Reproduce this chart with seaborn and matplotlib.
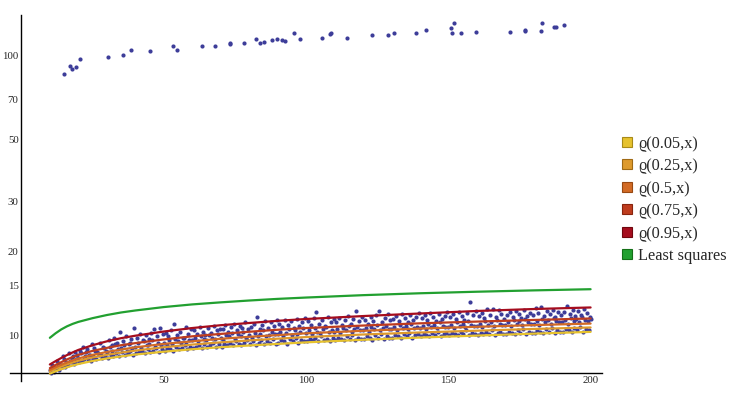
import numpy as np
import matplotlib.pyplot as plt
import seaborn as sns
from matplotlib.lines import Line2D
from matplotlib.ticker import NullFormatter

# fitted curves at these x positions
curve_x = [10, 12, 14, 16, 18, 20, 25, 30, 35, 40, 50, 60, 70, 80, 90, 100, 120, 140, 160, 180, 200]
q05 = [7.28, 7.42, 7.55, 7.67, 7.78, 7.88, 8.08, 8.25, 8.39, 8.52, 8.72, 8.9, 9.05, 9.18, 9.3, 9.42, 9.62, 9.8, 9.96, 10.12, 10.27]
q25 = [7.42, 7.58, 7.72, 7.86, 7.98, 8.1, 8.32, 8.5, 8.66, 8.8, 9.05, 9.25, 9.42, 9.57, 9.71, 9.84, 10.05, 10.22, 10.37, 10.52, 10.65]
q50 = [7.5, 7.67, 7.83, 7.98, 8.12, 8.25, 8.5, 8.7, 8.88, 9.04, 9.3, 9.5, 9.7, 9.86, 10.0, 10.15, 10.36, 10.55, 10.71, 10.86, 11.0]
q75 = [7.62, 7.82, 8.0, 8.18, 8.35, 8.5, 8.78, 9.0, 9.2, 9.36, 9.65, 9.9, 10.1, 10.28, 10.45, 10.6, 10.82, 11.02, 11.18, 11.33, 11.47]
q95 = [7.85, 8.07, 8.28, 8.48, 8.67, 8.85, 9.2, 9.5, 9.75, 9.95, 10.3, 10.6, 10.85, 11.05, 11.25, 11.42, 11.7, 11.95, 12.2, 12.4, 12.56]
lsq = [9.78, 10.15, 10.48, 10.75, 10.97, 11.15, 11.5, 11.8, 12.05, 12.25, 12.6, 12.88, 13.1, 13.3, 13.48, 13.63, 13.9, 14.12, 14.3, 14.46, 14.6]

# main cloud of points, three points per unit of x
scatter_y1 = [
    7.5, 7.7, 7.6, 7.9, 7.8, 8.2, 7.9, 8.1, 8.4, 8.0,
    8.3, 8.6, 8.2, 8.9, 8.5, 8.4, 8.8, 8.6, 8.5, 9.0,
    8.7, 9.1, 8.8, 9.3, 8.9, 9.0, 9.2, 8.8, 9.4, 9.0,
    9.1, 9.4, 9.0, 9.5, 9.2, 9.3, 9.6, 9.1, 9.4, 9.2,
    9.4, 9.2, 9.6, 9.3, 9.7, 9.5, 9.4, 9.8, 9.3, 9.6,
    9.6, 9.8, 9.5, 9.9, 9.7, 9.6, 10.0, 9.8, 9.7, 10.1,
    9.8, 9.6, 10.0, 9.9, 10.2, 9.7, 10.1, 9.9, 10.3, 9.8,
    10.0, 9.8, 10.2, 9.9, 10.1, 10.4, 9.9, 10.0, 10.3, 10.1,
    10.1, 10.3, 9.9, 10.2, 10.5, 10.0, 10.4, 10.1, 10.3, 10.6,
    10.2, 10.4, 10.1, 10.6, 10.3, 10.2, 10.5, 10.7, 10.3, 10.4,
    10.3, 10.5, 10.2, 10.6, 10.4, 10.8, 10.3, 10.5, 10.7, 10.4,
    10.4, 10.6, 10.3, 10.7, 10.5, 10.9, 10.4, 10.6, 10.8, 10.5,
    10.5, 10.7, 10.4, 10.9, 10.6, 10.8, 10.5, 11.0, 10.6, 10.7,
    10.6, 10.8, 10.5, 11.0, 10.7, 10.9, 10.6, 11.1, 10.8, 10.7,
    10.7, 10.9, 10.6, 11.1, 10.8, 11.0, 10.7, 11.2, 10.9, 10.8,
    10.8, 11.0, 10.7, 11.2, 10.9, 11.1, 10.8, 11.3, 11.0, 10.9,
    10.9, 11.1, 10.8, 11.3, 11.0, 11.2, 10.9, 11.4, 11.1, 11.0,
    11.0, 11.2, 10.9, 11.4, 11.1, 11.3, 11.0, 11.5, 11.2, 11.1,
    11.1, 11.3, 11.0, 11.5, 11.2, 11.4, 11.1, 11.6, 11.3, 11.2, 11.4]
scatter_y2 = [
    7.3, 7.4, 7.6, 7.5, 7.7, 7.7, 7.8, 8.0, 7.9, 8.2,
    8.0, 8.1, 8.4, 8.2, 8.1, 8.3, 8.2, 8.5, 8.3, 8.4,
    8.3, 8.5, 8.4, 8.6, 8.4, 8.7, 8.5, 8.6, 8.8, 8.5,
    8.6, 8.7, 8.8, 8.6, 8.9, 8.7, 8.8, 9.0, 8.7, 8.9,
    8.8, 9.0, 8.9, 8.8, 9.1, 8.9, 9.0, 9.2, 8.9, 9.1,
    9.0, 9.1, 9.2, 9.0, 9.3, 9.1, 9.2, 9.4, 9.1, 9.3,
    9.1, 9.3, 9.2, 9.4, 9.2, 9.5, 9.3, 9.2, 9.4, 9.6,
    9.3, 9.5, 9.2, 9.4, 9.6, 9.3, 9.5, 9.4, 9.7, 9.3,
    9.4, 9.6, 9.5, 9.3, 9.7, 9.5, 9.8, 9.4, 9.6, 9.5,
    9.5, 9.7, 9.6, 9.8, 9.5, 9.9, 9.6, 9.7, 9.5, 9.8,
    9.6, 9.8, 9.7, 9.6, 9.9, 9.7, 10.0, 9.6, 9.8, 9.7,
    9.7, 9.9, 9.8, 9.6, 10.0, 9.8, 10.1, 9.7, 9.9, 9.8,
    9.8, 10.0, 9.9, 9.8, 10.1, 9.9, 10.2, 9.8, 10.0, 10.1,
    9.9, 10.1, 10.0, 9.9, 10.2, 10.0, 10.3, 9.9, 10.1, 10.2,
    10.0, 10.2, 10.1, 10.0, 10.3, 10.1, 10.4, 10.0, 10.2, 10.1,
    10.0, 10.2, 10.1, 10.3, 10.1, 10.4, 10.0, 10.2, 10.3, 10.1,
    10.1, 10.3, 10.2, 10.1, 10.4, 10.2, 10.5, 10.1, 10.3, 10.2,
    10.2, 10.4, 10.3, 10.2, 10.5, 10.3, 10.6, 10.2, 10.4, 10.3,
    10.3, 10.5, 10.4, 10.3, 10.6, 10.4, 10.7, 10.3, 10.5, 10.4]
scatter_y3 = [
    7.8, 7.6, 8.1, 7.8, 8.4, 8.0, 8.6, 8.3, 8.7, 8.5,
    8.8, 9.1, 8.7, 8.5, 9.3, 9.0, 8.7, 9.4, 9.1, 8.8,
    9.6, 9.2, 9.8, 9.4, 10.3, 9.5, 9.9, 9.3, 9.7, 10.6,
    9.8, 10.1, 9.6, 10.0, 9.7, 10.2, 10.5, 9.9, 10.6, 10.1,
    10.2, 9.9, 10.4, 10.95, 10.0, 10.3, 9.8, 10.7, 10.1, 10.5,
    10.4, 10.1, 10.7, 10.3, 10.0, 10.6, 10.2, 10.8, 10.4, 10.5,
    10.5, 10.9, 10.3, 10.7, 11.0, 10.4, 10.8, 10.6, 11.1, 10.5,
    10.7, 11.0, 11.6, 10.5, 10.9, 11.2, 10.6, 11.1, 10.8, 11.3,
    11.0, 10.7, 11.3, 10.9, 11.2, 10.6, 11.4, 10.8, 11.1, 11.5,
    11.2, 10.9, 11.5, 12.1, 11.0, 11.3, 10.8, 11.6, 11.1, 11.4,
    11.1, 11.5, 10.9, 11.3, 11.7, 11.0, 11.4, 12.2, 11.2, 11.6,
    11.3, 11.0, 11.6, 11.2, 11.8, 12.15, 11.1, 11.5, 11.9, 11.3,
    11.4, 11.7, 11.2, 11.9, 11.5, 11.1, 11.8, 11.3, 11.6, 12.0,
    11.5, 11.8, 11.3, 12.0, 11.6, 11.2, 11.9, 11.4, 11.7, 12.1,
    11.6, 11.9, 11.4, 12.1, 11.7, 11.3, 12.0, 13.1, 11.8, 12.2,
    11.7, 12.0, 11.5, 12.45, 11.8, 12.45, 11.6, 12.35, 11.9, 11.4,
    11.8, 12.1, 11.6, 12.2, 11.9, 11.5, 12.3, 11.7, 12.0, 11.8,
    12.5, 12.0, 12.6, 11.7, 12.2, 11.9, 12.3, 11.6, 12.1, 11.8,
    12.1, 12.7, 11.9, 12.3, 11.7, 12.2, 11.8, 12.4, 12.0, 11.6]

# outliers near the top
outlier_x = [15.0, 17.1, 17.8, 19.2, 20.6, 30.4, 35.7, 38.5, 45.2, 53.3, 54.7, 63.5, 68.0, 73.3, 73.3, 78.2,
             82.4, 83.8, 85.2, 88.1, 89.8, 91.6, 92.6, 95.8, 97.9, 105.6, 108.4, 108.8, 114.4, 123.2, 128.8,
             130.9, 138.7, 142.2, 151.0, 152.0, 151.3, 154.5, 159.7, 171.7, 177.0, 177.0, 182.6, 182.9,
             187.1, 187.8, 190.7]
outlier_y = [86.0, 91.9, 89.6, 91.1, 97.3, 98.9, 100.6, 104.8, 103.9, 108.3, 104.8, 108.3, 108.3, 111.0, 110.2, 111.0,
             114.7, 111.0, 111.9, 113.8, 114.7, 113.8, 112.9, 120.5, 114.7, 115.7, 119.5, 120.5, 115.7, 118.6, 118.6,
             120.5, 120.5, 123.6, 125.6, 130.9, 120.5, 120.5, 121.5, 121.5, 123.6, 122.6, 122.6, 130.9,
             126.6, 126.6, 128.7]

labels = ['ϱ(0.05,x)', 'ϱ(0.25,x)', 'ϱ(0.5,x)', 'ϱ(0.75,x)', 'ϱ(0.95,x)', 'Least squares']
colors = ['#e6c22e', '#de9a2c', '#d26a24', '#be3c1e', '#a50d1e', '#22a030']
edge_colors = ['#a88a18', '#a06a14', '#984812', '#88240e', '#70060e', '#147018']

sns.set_style('white')
plt.rcParams['font.family'] = ['Liberation Serif', 'DejaVu Serif']

fig = plt.figure(figsize=(7.36, 3.99), dpi=100)
ax = fig.add_axes([0.0136, 0.0451, 0.8043, 0.9173])

pt_color = '#3d3d99'
sns.scatterplot(x=np.arange(10, 201), y=scatter_y1, ax=ax, color=pt_color, s=9, linewidth=0, zorder=2)
sns.scatterplot(x=np.arange(10, 200) + 0.33, y=scatter_y2, ax=ax, color=pt_color, s=9, linewidth=0, zorder=2)
sns.scatterplot(x=np.arange(10, 200) + 0.67, y=scatter_y3, ax=ax, color=pt_color, s=9, linewidth=0, zorder=2)
sns.scatterplot(x=outlier_x, y=outlier_y, ax=ax, color=pt_color, s=9, linewidth=0, zorder=2)

for vals, c in zip([q05, q25, q50, q75, q95, lsq], colors):
    sns.lineplot(x=curve_x, y=vals, ax=ax, color=c, linewidth=1.6, zorder=3, legend=False)

ax.set_yscale('log')
ax.set_xlim(-4, 204)
ax.set_ylim(6.85, 139)

ax.spines['top'].set_visible(False)
ax.spines['right'].set_visible(False)
ax.spines['left'].set_position(('data', 0))
ax.spines['bottom'].set_position(('data', 7.3))
for s in ['left', 'bottom']:
    ax.spines[s].set_color('black')
    ax.spines[s].set_linewidth(1.0)

ax.set_yticks([10, 15, 20, 30, 50, 70, 100])
ax.set_yticklabels(['10', '15', '20', '30', '50', '70', '100'])
ax.set_yticks([11, 12, 13, 14, 16, 17, 18, 19, 40, 60, 80, 90, 110, 120, 140], minor=True)
ax.yaxis.set_minor_formatter(NullFormatter())
ax.set_xticks([50, 100, 150, 200])
ax.set_xticks(list(range(10, 201, 10)), minor=True)
ax.tick_params(which='major', direction='in', length=4, width=0.8, labelsize=7.8, color='black', pad=2)
ax.tick_params(which='minor', direction='in', length=2.5, width=0.6, color='black')
ax.set_xlabel('')
ax.set_ylabel('')

handles = [Line2D([], [], linestyle='none', marker='s', markersize=7, markerfacecolor=c,
                  markeredgecolor=e, markeredgewidth=0.8) for c, e in zip(colors, edge_colors)]
ax.legend(handles=handles, labels=labels, loc='center left', bbox_to_anchor=(0.834, 0.499),
          bbox_transform=fig.transFigure, frameon=False, fontsize=11.7, handlelength=0.8,
          handletextpad=0.3, labelspacing=0.4, borderaxespad=0)

plt.savefig('out.png', dpi=100)
